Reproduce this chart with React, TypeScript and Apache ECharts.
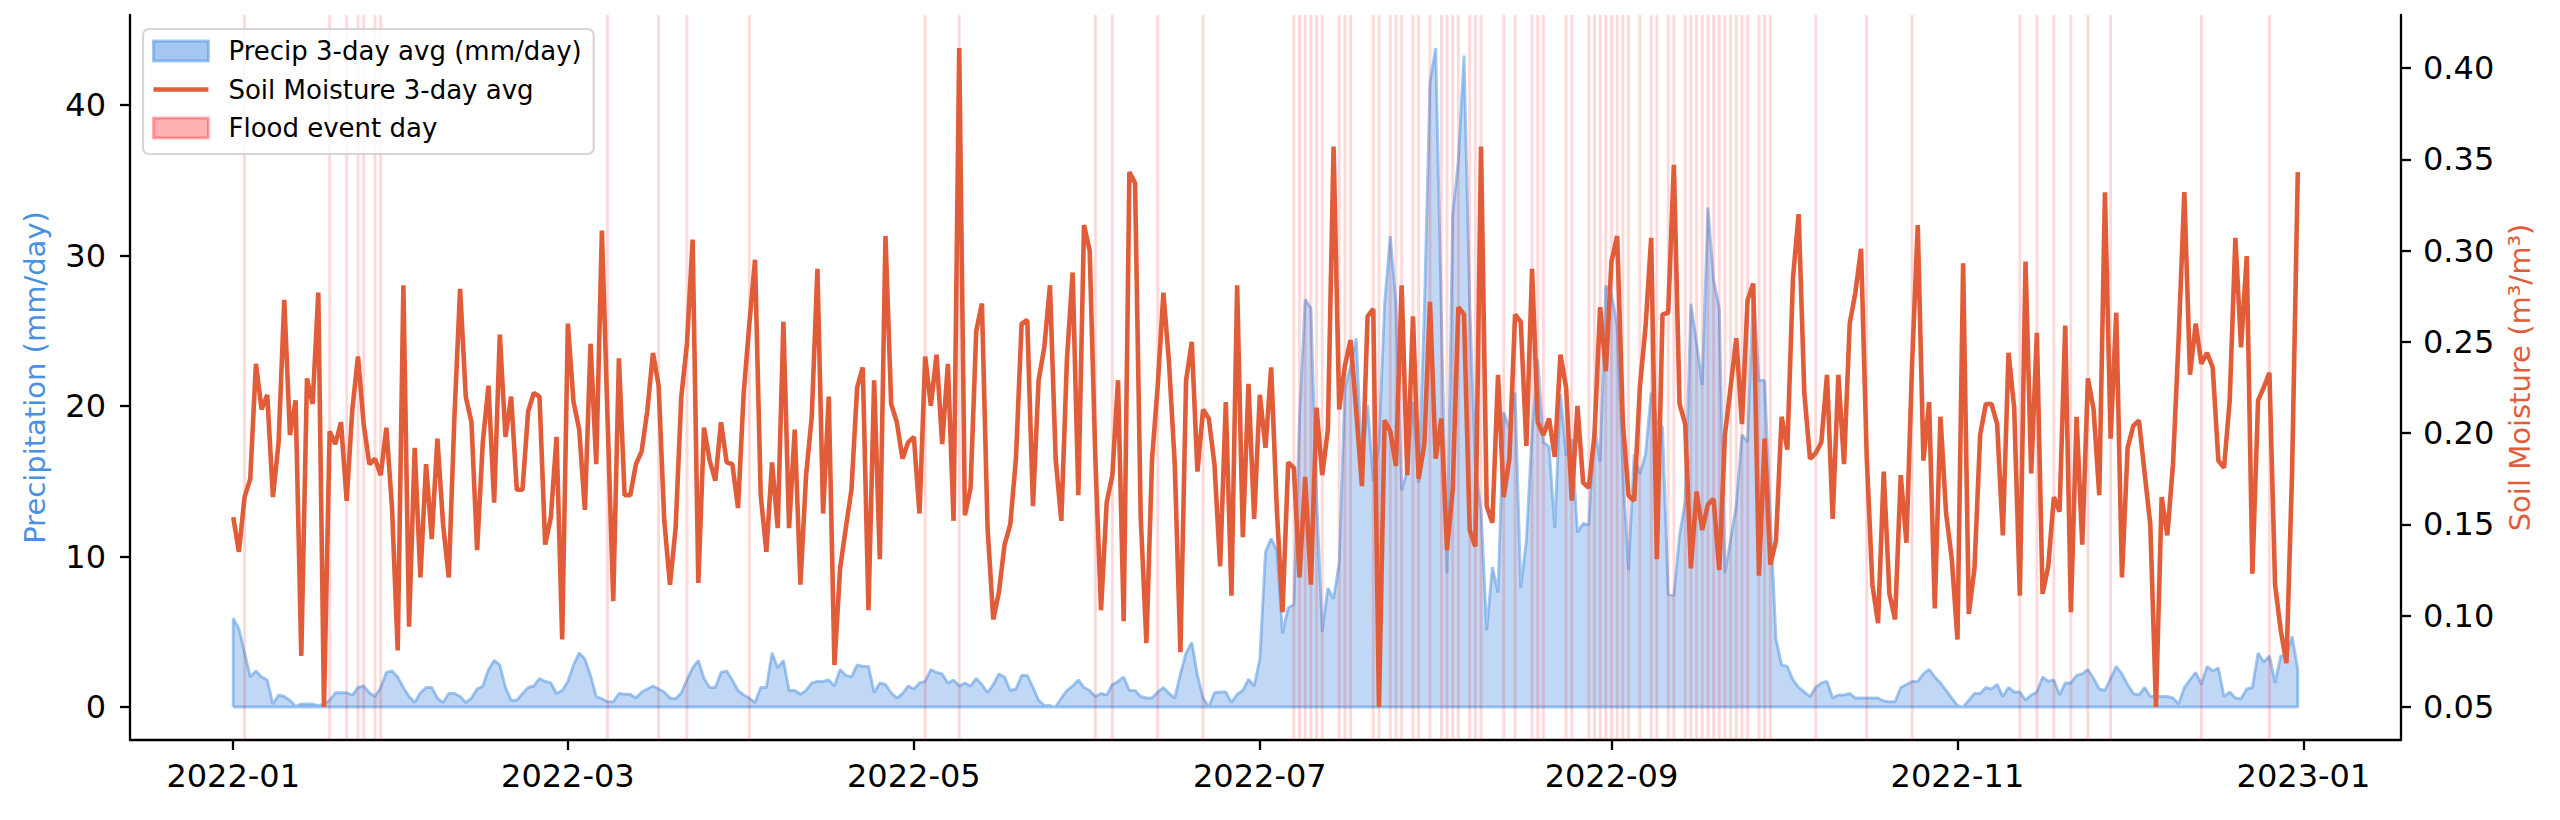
import React, { useEffect, useRef } from "react";
import * as echarts from "echarts";

// Day offsets from 2022-01-01 (0 = Jan 1) and tick labels of the x axis
const tickDays = [0, 59, 120, 181, 243, 304, 365];
const tickLabels = ["2022-01", "2022-03", "2022-05", "2022-07", "2022-09", "2022-11", "2023-01"];

// Left-axis ticks (mm/day) and right-axis ticks (m³/m³)
const precipTicks = [0, 10, 20, 30, 40];
const soilTicks = [0.05, 0.1, 0.15, 0.2, 0.25, 0.3, 0.35, 0.4];

// Precipitation 3-day average, one value per day of 2022 (mm/day)
const precip = [
  5.9, 5.2, 3.6, 2.0, 2.4, 2.0, 1.8, 0.2, 0.8, 0.7, 0.45, 0.05, 0.2, 0.2, 0.2, 0.1, 0.2, 0.45, 0.95, 0.95,
  0.95, 0.8, 1.3, 1.4, 0.95, 0.7, 1.3, 2.3, 2.4, 2.0, 1.3, 0.7, 0.3, 0.95, 1.3, 1.3, 0.6, 0.3, 0.9, 0.9,
  0.7, 0.3, 0.6, 1.2, 1.4, 2.5, 3.1, 2.8, 1.3, 0.45, 0.45, 0.9, 1.3, 1.4, 1.9, 1.7, 1.6, 0.9, 1.1, 1.7,
  2.8, 3.6, 3.2, 2.1, 0.7, 0.55, 0.35, 0.35, 0.9, 0.85, 0.85, 0.6, 1.0, 1.2, 1.4, 1.2, 1.0, 0.6, 0.55, 0.95,
  1.8, 2.6, 3.1, 1.9, 1.3, 1.3, 2.3, 2.4, 1.8, 1.1, 0.8, 0.6, 0.3, 1.3, 1.3, 3.6, 2.6, 3.1, 1.1, 1.1,
  0.85, 1.1, 1.6, 1.7, 1.7, 1.8, 1.4, 2.5, 2.1, 2.0, 2.8, 2.7, 2.7, 0.95, 1.6, 1.5, 0.95, 0.6, 0.9, 1.4,
  1.2, 1.6, 1.7, 2.5, 2.3, 2.2, 1.6, 1.8, 1.4, 1.6, 1.4, 1.9, 1.5, 0.95, 1.5, 2.2, 2.0, 1.1, 1.2, 2.1,
  2.1, 1.3, 0.45, 0.1, 0.1, 0.0, 0.6, 1.1, 1.4, 1.8, 1.3, 1.1, 0.7, 0.9, 0.8, 1.5, 1.7, 2.0, 1.1, 1.1,
  0.7, 0.6, 0.6, 1.0, 1.3, 0.9, 0.6, 2.2, 3.6, 4.3, 2.1, 0.6, 0.0, 0.95, 1.0, 1.0, 0.3, 0.85, 1.1, 1.85,
  1.4, 3.2, 10.3, 11.2, 10.4, 4.9, 6.6, 6.8, 19.3, 27.1, 26.5, 14.0, 5.0, 7.9, 7.2, 9.6, 21.2, 22.6, 24.5, 16.0,
  20.1, 15.0, 17.5, 26.8, 31.3, 26.8, 14.4, 15.7, 20.3, 14.9, 26.2, 41.5, 43.8, 26.2, 8.9, 32.7, 36.3, 43.3, 26.8, 16.0,
  13.1, 5.1, 9.3, 7.6, 19.6, 18.5, 20.9, 7.9, 11.1, 18.3, 23.1, 17.6, 17.3, 11.9, 20.8, 16.7, 17.8, 11.6, 12.2, 12.1,
  18.6, 16.3, 28.0, 27.5, 25.3, 15.7, 9.1, 16.8, 15.5, 16.8, 20.9, 18.9, 18.6, 7.5, 7.4, 11.4, 13.7, 26.8, 24.2, 21.4,
  33.2, 28.4, 26.5, 8.9, 11.1, 13.4, 18.1, 17.6, 27.8, 21.7, 21.7, 12.7, 4.5, 2.8, 2.7, 1.8, 1.3, 1.0, 0.7, 1.3,
  1.6, 1.7, 0.6, 0.8, 0.8, 0.9, 0.6, 0.6, 0.6, 0.6, 0.6, 0.4, 0.35, 0.35, 1.3, 1.5, 1.7, 1.7, 2.2, 2.5,
  2.0, 1.6, 1.1, 0.6, 0.1, 0.0, 0.45, 0.9, 0.9, 1.3, 1.2, 1.5, 0.7, 1.3, 1.0, 1.0, 0.45, 0.8, 1.0, 2.0,
  1.7, 1.8, 0.8, 1.6, 1.6, 2.1, 2.2, 2.5, 1.9, 1.2, 1.1, 1.9, 2.7, 2.2, 1.5, 0.9, 0.8, 1.3, 0.7, 0.7,
  0.7, 0.7, 0.6, 0.2, 1.3, 1.8, 2.3, 1.5, 2.7, 2.4, 2.6, 0.7, 1.0, 0.6, 0.55, 1.2, 1.3, 3.6, 3.0, 3.4,
  1.6, 3.4, 3.4, 4.7, 2.5,
];

// Soil moisture 3-day average, one value per day of 2022 (m³/m³)
const soil = [
  0.154, 0.135, 0.165, 0.175, 0.238, 0.213, 0.221, 0.165, 0.195, 0.273, 0.199, 0.218, 0.078, 0.23, 0.216, 0.277, 0.05, 0.201, 0.194, 0.206,
  0.163, 0.213, 0.242, 0.205, 0.183, 0.186, 0.177, 0.203, 0.159, 0.081, 0.281, 0.094, 0.192, 0.121, 0.183, 0.142, 0.197, 0.15, 0.121, 0.209,
  0.279, 0.22, 0.206, 0.136, 0.195, 0.226, 0.162, 0.254, 0.198, 0.22, 0.169, 0.169, 0.212, 0.222, 0.22, 0.139, 0.154, 0.198, 0.087, 0.26,
  0.217, 0.202, 0.158, 0.249, 0.183, 0.311, 0.208, 0.108, 0.241, 0.166, 0.166, 0.183, 0.19, 0.212, 0.244, 0.226, 0.152, 0.117, 0.148, 0.22,
  0.249, 0.306, 0.118, 0.203, 0.185, 0.174, 0.206, 0.184, 0.183, 0.159, 0.222, 0.26, 0.295, 0.166, 0.135, 0.184, 0.148, 0.261, 0.148, 0.202,
  0.117, 0.177, 0.209, 0.29, 0.156, 0.22, 0.073, 0.126, 0.148, 0.169, 0.225, 0.236, 0.103, 0.229, 0.131, 0.308, 0.216, 0.206, 0.186, 0.195,
  0.198, 0.156, 0.242, 0.215, 0.243, 0.194, 0.238, 0.152, 0.411, 0.155, 0.17, 0.256, 0.271, 0.148, 0.098, 0.113, 0.139, 0.15, 0.186, 0.26,
  0.262, 0.16, 0.229, 0.247, 0.281, 0.186, 0.152, 0.241, 0.288, 0.166, 0.314, 0.3, 0.186, 0.103, 0.162, 0.177, 0.229, 0.097, 0.343, 0.337,
  0.154, 0.085, 0.186, 0.226, 0.277, 0.238, 0.183, 0.08, 0.229, 0.25, 0.179, 0.213, 0.208, 0.183, 0.127, 0.217, 0.111, 0.281, 0.143, 0.227,
  0.153, 0.221, 0.192, 0.236, 0.158, 0.102, 0.184, 0.181, 0.121, 0.176, 0.117, 0.214, 0.177, 0.202, 0.357, 0.213, 0.237, 0.251, 0.212, 0.171,
  0.264, 0.268, 0.05, 0.207, 0.201, 0.182, 0.281, 0.177, 0.264, 0.175, 0.194, 0.272, 0.186, 0.208, 0.136, 0.169, 0.269, 0.265, 0.147, 0.138,
  0.357, 0.16, 0.151, 0.232, 0.165, 0.186, 0.265, 0.261, 0.193, 0.29, 0.206, 0.199, 0.208, 0.187, 0.243, 0.225, 0.163, 0.215, 0.173, 0.17,
  0.199, 0.269, 0.234, 0.294, 0.308, 0.206, 0.166, 0.163, 0.225, 0.258, 0.307, 0.131, 0.265, 0.266, 0.347, 0.216, 0.205, 0.126, 0.168, 0.147,
  0.161, 0.164, 0.125, 0.199, 0.225, 0.252, 0.205, 0.273, 0.282, 0.122, 0.197, 0.128, 0.141, 0.209, 0.191, 0.285, 0.32, 0.222, 0.186, 0.189,
  0.195, 0.232, 0.153, 0.232, 0.183, 0.26, 0.277, 0.301, 0.187, 0.117, 0.096, 0.179, 0.112, 0.098, 0.177, 0.14, 0.238, 0.314, 0.185, 0.217,
  0.104, 0.209, 0.156, 0.131, 0.087, 0.293, 0.101, 0.126, 0.199, 0.216, 0.216, 0.205, 0.144, 0.244, 0.214, 0.111, 0.294, 0.178, 0.255, 0.112,
  0.127, 0.165, 0.157, 0.259, 0.102, 0.209, 0.139, 0.23, 0.213, 0.166, 0.332, 0.197, 0.266, 0.121, 0.192, 0.204, 0.207, 0.178, 0.15, 0.05,
  0.165, 0.144, 0.183, 0.252, 0.332, 0.232, 0.26, 0.238, 0.244, 0.236, 0.185, 0.181, 0.218, 0.307, 0.247, 0.297, 0.123, 0.218, 0.225, 0.233,
  0.117, 0.092, 0.074, 0.179, 0.343,
];

// Flood event days (offset from 2022-01-01)
const floodDays = [
  2, 17, 20, 22, 23, 25, 26, 66, 75, 80, 91, 122, 128, 152, 155, 163, 171,
  187, 188, 189, 190, 191, 192, 195, 196, 197, 201, 202, 204, 205, 206, 208, 209, 211, 213, 214, 215, 216,
  218, 219, 220, 224, 226, 229, 230, 231, 235, 236, 239, 240, 241, 242, 243, 244, 245, 246, 248, 250, 251,
  253, 254, 256, 257, 258, 259, 260, 261, 262, 263, 264, 265, 266, 267, 269, 270, 271, 279, 288, 296, 315,
  318, 321, 324, 327, 331, 347, 359,
];

const FONT = "DejaVu Sans";
const BLUE = "#4A90E2";
const ORANGE = "#E15D3A";
const AXIS = "#000000";

export default function App() {
  const ref = useRef<HTMLDivElement>(null);

  useEffect(() => {
    document.body.style.margin = "0";
    if (!ref.current) return;
    const chart = echarts.init(ref.current, undefined, { renderer: "svg" });

    const n = precip.length;
    // fill_between outline: baseline start, values, baseline end, back along baseline
    const precipData: number[][] = [[0, 0]];
    precip.forEach((v, i) => precipData.push([i, v]));
    precipData.push([n - 1, 0]);
    precipData.push([0, 0]);
    const soilData = soil.map((v, i) => [i, v]);
    const floodData = floodDays.map((d) => [d, 0]);

    const xSpan = n - 1;
    const xMin = -0.05 * xSpan;
    const xMax = xSpan + 0.05 * xSpan;
    const pMax = Math.max(...precip);
    const pMin = 0;
    const sMax = Math.max(...soil);
    const sMin = Math.min(...soil);

    const option: any = {
      animation: false,
      backgroundColor: "#ffffff",
      textStyle: { fontFamily: FONT },
      grid: { left: 130, top: 15, width: 2271, height: 725, containLabel: false },
      legend: {
        orient: "vertical",
        left: 143,
        top: 29,
        padding: [9, 12, 13, 9],
        itemWidth: 55,
        itemHeight: 20,
        itemGap: 12.5,
        selectedMode: false,
        backgroundColor: "rgba(255,255,255,0.8)",
        borderColor: "rgba(204,204,204,0.8)",
        borderWidth: 2.2,
        borderRadius: 6,
        textStyle: { fontSize: 26, fontFamily: FONT, color: "#000000", padding: [0, 0, 0, 15] },
        data: [
          {
            name: "Precip 3-day avg (mm/day)",
            icon: "rect",
            itemStyle: { color: "rgba(74,144,226,0.5)", borderColor: "rgba(74,144,226,0.5)", borderWidth: 2.9 },
          },
          {
            name: "Soil Moisture 3-day avg",
            icon: "path://M0,0 L0,0 Z M0,7.7 L55,7.7 L55,12.3 L0,12.3 Z M55,20 L55,20 Z",
            itemStyle: { color: ORANGE, borderWidth: 0 },
          },
          {
            name: "Flood event day",
            icon: "rect",
            itemStyle: { color: "rgba(255,0,0,0.3)", borderColor: "rgba(255,0,0,0.3)", borderWidth: 2.9 },
          },
        ],
      },
      xAxis: {
        type: "value",
        min: xMin,
        max: xMax,
        splitLine: { show: false },
        axisLine: { show: true, onZero: false, lineStyle: { color: AXIS, width: 2.3 } },
        axisTick: { show: true, customValues: tickDays, length: 10, lineStyle: { color: AXIS, width: 2.3 } },
        axisLabel: {
          customValues: tickDays,
          margin: 20,
          fontSize: 32,
          fontFamily: FONT,
          color: "#000000",
          formatter: (v: number) => {
            const i = tickDays.indexOf(Math.round(v));
            return i >= 0 ? tickLabels[i] : "";
          },
        },
      },
      yAxis: [
        {
          type: "value",
          position: "left",
          min: pMin - 0.05 * (pMax - pMin),
          max: pMax + 0.05 * (pMax - pMin),
          splitLine: { show: false },
          axisLine: { show: true, onZero: false, lineStyle: { color: AXIS, width: 2.3 } },
          axisTick: { show: true, customValues: precipTicks, length: 10, lineStyle: { color: AXIS, width: 2.3 } },
          axisLabel: {
            customValues: precipTicks,
            margin: 24,
            fontSize: 32,
            fontFamily: FONT,
            color: "#000000",
            formatter: (v: number) => String(Math.round(v)),
          },
          name: "Precipitation (mm/day)",
          nameLocation: "middle",
          nameGap: 81,
          nameTextStyle: { color: BLUE, fontSize: 29, fontFamily: FONT },
        },
        {
          type: "value",
          position: "right",
          min: sMin - 0.05 * (sMax - sMin),
          max: sMax + 0.05 * (sMax - sMin),
          splitLine: { show: false },
          axisLine: { show: true, onZero: false, lineStyle: { color: AXIS, width: 2.3 } },
          axisTick: { show: true, customValues: soilTicks, length: 10, lineStyle: { color: AXIS, width: 2.3 } },
          axisLabel: {
            customValues: soilTicks,
            margin: 22,
            fontSize: 32,
            fontFamily: FONT,
            color: "#000000",
            formatter: (v: number) => v.toFixed(2),
          },
          name: "Soil Moisture (m³/m³)",
          nameLocation: "middle",
          nameGap: 66,
          nameTextStyle: { color: ORANGE, fontSize: 29, fontFamily: FONT },
        },
      ],
      series: [
        {
          name: "Precip 3-day avg (mm/day)",
          type: "line",
          xAxisIndex: 0,
          yAxisIndex: 0,
          data: precipData,
          symbol: "none",
          smooth: false,
          z: 2,
          lineStyle: { color: "rgba(74,144,226,0.5)", width: 2.9 },
          itemStyle: { color: "rgba(74,144,226,0.5)" },
          areaStyle: { color: "rgba(74,144,226,0.5)", origin: "auto" },
        },
        {
          name: "Flood event day",
          type: "custom",
          xAxisIndex: 0,
          yAxisIndex: 0,
          z: 3,
          data: floodData,
          encode: { x: 0, y: 1 },
          itemStyle: { color: "rgba(255,0,0,0.3)" },
          renderItem: (params: any, api: any) => {
            const x = api.coord([api.value(0), 0])[0];
            const cs = params.coordSys;
            return {
              type: "line",
              shape: { x1: x, y1: cs.y, x2: x, y2: cs.y + cs.height },
              style: { stroke: "rgba(255,0,0,0.15)", lineWidth: 2.9 },
            };
          },
        },
        {
          name: "Soil Moisture 3-day avg",
          type: "line",
          xAxisIndex: 0,
          yAxisIndex: 1,
          data: soilData,
          symbol: "none",
          smooth: false,
          z: 4,
          lineStyle: { color: ORANGE, width: 4.6 },
          itemStyle: { color: ORANGE },
        },
      ],
    };

    chart.setOption(option);
    return () => chart.dispose();
  }, []);

  return (
    <div
      ref={ref}
      style={{ position: "absolute", left: 0, top: 0, width: "2560px", height: "820px" }}
    />
  );
}
